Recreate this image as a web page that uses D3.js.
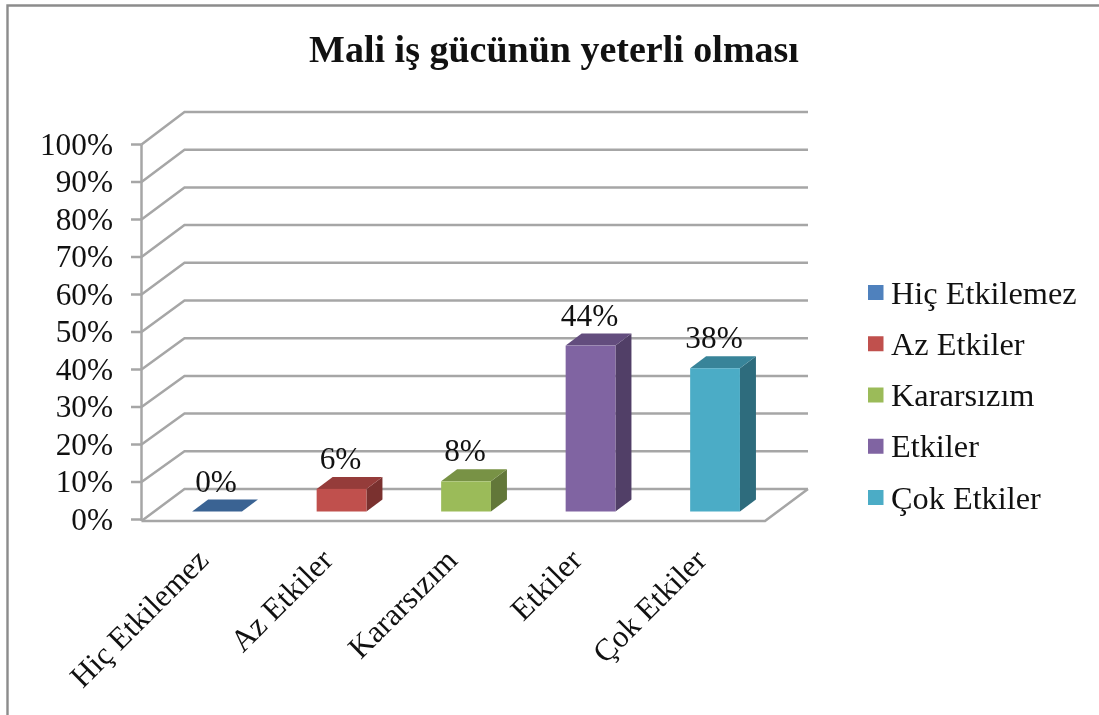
<!DOCTYPE html>
<html><head><meta charset="utf-8">
<script src="https://cdn.jsdelivr.net/npm/d3@7"></script>
<style>html,body{margin:0;padding:0;background:#fff;overflow:hidden}svg{display:block;filter:blur(0.4px)}text{font-family:"Liberation Serif","Times New Roman",serif;fill:#111}</style>
</head><body><svg id="c" width="1099" height="715"></svg>
<script>
const categories=["Hiç Etkilemez","Az Etkiler","Kararsızım","Etkiler","Çok Etkiler"];
const values=[0,6,8,44,38];
const colors=["#4f81bd","#c0504d","#9bbb59","#8064a2","#4bacc6"];
const topColors=["#3a6393","#953c3a","#789245","#634d7e","#388499"];
const sideColors=["#2f5078","#7a312f","#627739","#513f67","#2e6c7d"];
const ticks=[0,10,20,30,40,50,60,70,80,90,100];
const title="Mali iş gücünün yeterli olması";
const svg=d3.select("#c");
const yFront=d3.scaleLinear().domain([0,100]).range([519.5,144.5]);
const yBack=d3.scaleLinear().domain([0,100]).range([489,112]);
const x=d3.scaleBand().domain(categories).range([154.8,777.3]).paddingInner(0.6).paddingOuter(0.3);
const barBase=511.5, bdx=16, bdy=-12, floorY=521;
const grey="#a6a6a6";
// frame
svg.append("path").attr("d","M7.5,715V5.5H1099").attr("fill","none").attr("stroke","#8c8c8c").attr("stroke-width",2.4);
// walls
const g=svg.append("g").attr("fill","none").attr("stroke",grey).attr("stroke-width",2.5);
ticks.forEach(t=>{
  g.append("path").attr("d",`M141.5,${t===0?floorY:yFront(t)}L184.5,${yBack(t)}H808`);
  g.append("path").attr("d",`M131,${yFront(t)}H141.5`);
});
g.append("path").attr("d",`M141.5,${floorY}V${yFront(100)}`);
g.append("path").attr("d",`M141.5,${floorY}H765L808,${yBack(0)}`);
// bars
const h=v=>yBack(0)-yBack(v);
const bars=svg.append("g").selectAll("g").data(categories).join("g");
bars.each(function(c,i){
  const s=d3.select(this),x0=x(c),w=x.bandwidth(),top=barBase-h(values[i]);
  s.append("path").attr("fill",sideColors[i]).attr("d",`M${x0+w},${barBase}V${top}l${bdx},${bdy}V${barBase+bdy}Z`);
  s.append("path").attr("fill",topColors[i]).attr("d",`M${x0},${top}H${x0+w}l${bdx},${bdy}H${x0+bdx}Z`);
  s.append("rect").attr("x",x0).attr("y",top).attr("width",w).attr("height",barBase-top).attr("fill",colors[i]);
});
// tick labels
svg.append("g").selectAll("text").data(ticks).join("text")
 .attr("x",113).attr("y",t=>yFront(t)+10.3).attr("text-anchor","end").style("font-size","31.3px").text(t=>t+"%");
// value labels
svg.append("g").selectAll("text").data(categories).join("text")
 .attr("x",c=>x(c)+x.bandwidth()/2-1).attr("y",(c,i)=>barBase-h(values[i])-20)
 .attr("text-anchor","middle").style("font-size","31.3px").text((c,i)=>values[i]+"%");
// category labels
svg.append("g").selectAll("text").data(categories).join("text")
 .attr("text-anchor","end").style("font-size","31.3px")
 .attr("transform",c=>`translate(${x(c)+x.bandwidth()/2-7},562) rotate(-45)`).text(c=>c);
// title
svg.append("text").attr("x",554).attr("y",62).attr("text-anchor","middle").style("font-size","38px").style("font-weight","bold").text(title);
// legend
const ly=d3.scalePoint().domain(categories).range([292.5,497.5]);
const lg=svg.append("g").selectAll("g").data(categories).join("g").attr("transform",c=>`translate(868,${ly(c)})`);
lg.append("rect").attr("x",0).attr("y",-7.5).attr("width",15.5).attr("height",15).attr("fill",(c,i)=>colors[i]);
lg.append("text").attr("x",23).attr("y",11).style("font-size","32.3px").text(c=>c);
</script></body></html>
